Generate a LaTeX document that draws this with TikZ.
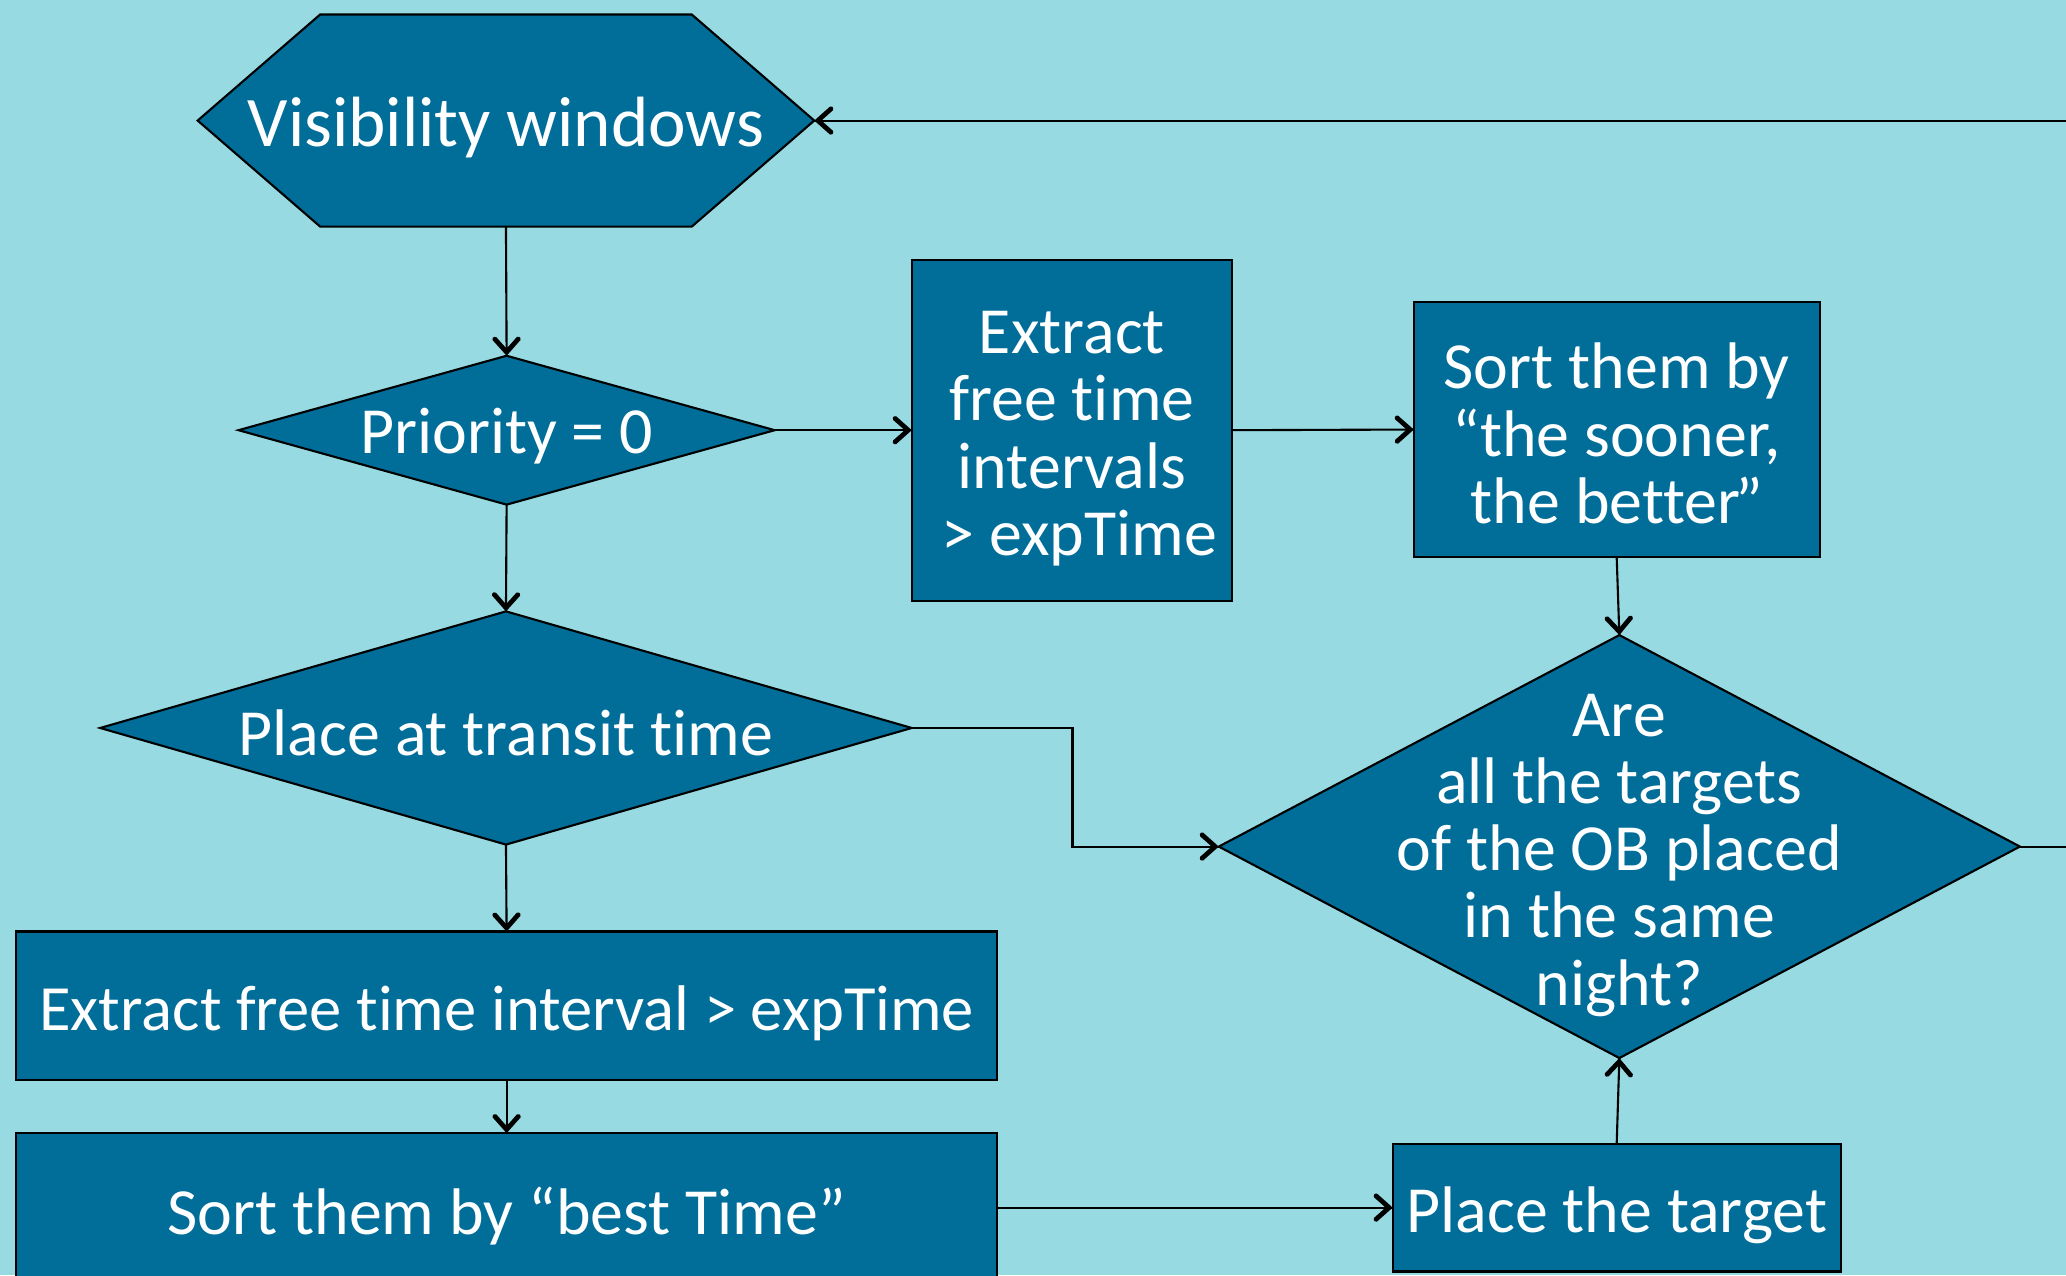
\documentclass[tikz,border=0pt]{standalone}
\usepackage{fontspec}
\setmainfont{Carlito}[Ligatures={NoCommon,NoContextual}]
\usetikzlibrary{shapes.geometric,decorations.markings}
\definecolor{bgc}{RGB}{152,218,226}
\definecolor{boxc}{RGB}{1,109,153}
\tikzset{
  box/.style={draw=black, fill=boxc, line width=1.6pt, inner sep=0pt, outer sep=0pt},
  rectbox/.style={box, rectangle},
  diabox/.style={box, diamond},
  lbl/.style={text=white, align=center, inner sep=0pt, font=\fontsize{50}{51}\selectfont},
  conn/.style={line width=1.6pt, draw=black, postaction={decorate},
    decoration={markings, mark=at position 1 with {\fill[black, rounded corners=1.2pt] (0pt,0pt) -- (-12.8pt,11.4pt) -- (-15.1pt,8.6pt) -- (-5.4pt,0pt) -- (-15.1pt,-8.6pt) -- (-12.8pt,-11.4pt) -- cycle;}}},
}
\begin{document}
\begin{tikzpicture}[x=1pt,y=-1pt]
\fill[bgc] (0,0) rectangle (1568,968);
\useasboundingbox (0,0) rectangle (1568,968);
% hexagon
\node[minimum width=468pt, minimum height=161pt, inner sep=0pt, outer sep=0pt] (vis) at (384,91.5) {};
\filldraw[box] (vis.west) -- ([xshift=93pt]vis.north west) -- ([xshift=-93pt]vis.north east) -- (vis.east) -- ([xshift=-93pt]vis.south east) -- ([xshift=93pt]vis.south west) -- cycle;
\node[lbl, font=\fontsize{54}{55}\selectfont] (vislbl) at (384,97) {Visibility windows};
% diamonds
\node[diabox, minimum width=407pt, minimum height=113pt] (prio) at (384.5,326.5) {};
\node[lbl] (priolbl) at (384.5,331) {Priority = 0};
\node[diabox, minimum width=616pt, minimum height=177pt] (transit) at (384,552.5) {};
\node[lbl] (transitlbl) at (384,556) {Place at transit time};
\node[diabox, minimum width=608pt, minimum height=321pt] (are) at (1229,642.5) {};
\node[lbl] (arelbl) at (1229,649) {Are\\all the targets\\of the OB placed\\in the same\\night?};
% rectangles
\node[rectbox, minimum width=243pt, minimum height=259pt] (extr) at (813.5,326.5) {};
\node[lbl] (extrlbl) at (813.5,333) {Extract\\free time\\intervals\\\ > expTime};
\node[rectbox, minimum width=308pt, minimum height=194pt] (sooner) at (1227,326) {};
\node[lbl] (soonerlbl) at (1227,329) {Sort them by\\“the sooner,\\the better\kern-0.08em”};
\node[rectbox, minimum width=745pt, minimum height=113pt] (extint) at (384.5,763.5) {};
\node[lbl, font=\fontsize{49}{50}\selectfont] (extintlbl) at (384.5,769) {Extract free time interval > expTime};
\node[rectbox, minimum width=745pt, minimum height=116pt] (best) at (384.5,918) {};
\node[lbl] (bestlbl) at (384.5,923) {Sort them by “best Time”};
\node[rectbox, minimum width=340pt, minimum height=97pt] (place) at (1227,916.5) {};
\node[lbl] (placelbl) at (1227,922) {Place the target};
% connectors
\coordinate (bend) at (814,0);
\coordinate (offr) at (1600,0);
\draw[conn] (vis.south) -- (prio.north);
\draw[conn] (prio.east) -- (extr.west);
\draw[conn] (extr.east) -- (sooner.west);
\draw[conn] (sooner.south) -- (are.north);
\draw[conn] (prio.south) -- (transit.north);
\draw[conn] (transit.east) -- (transit.east -| bend) -- (are.west -| bend) -- (are.west);
\draw[conn] (transit.south) -- (extint.north);
\draw[conn] (extint.south) -- (best.north);
\draw[conn] (best.east |- place.west) -- (place.west);
\draw[conn] (place.north) -- (are.south);
\draw[conn] (are.east) -- (are.east -| offr) -- (vis.east -| offr) -- (vis.east);
\end{tikzpicture}
\end{document}
